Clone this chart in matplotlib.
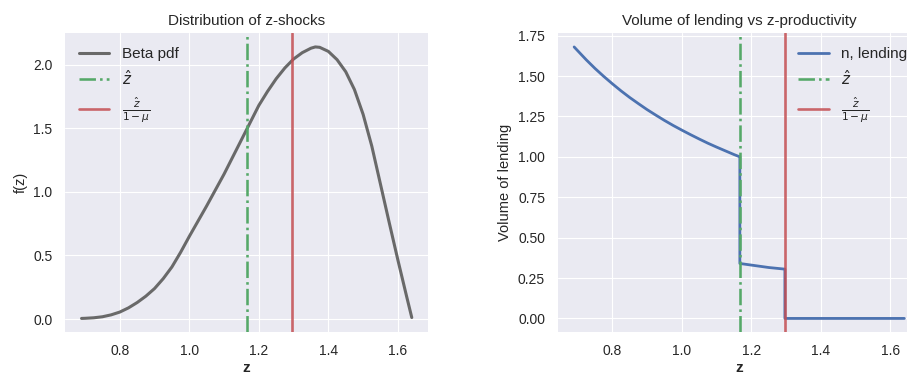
import matplotlib
matplotlib.use("Agg")
import matplotlib.pyplot as plt

# values
z_hat = 1.1667
z_bar = 1.2963  # z_hat / (1 - mu)

beta_z = [0.69, 0.70, 0.725, 0.75, 0.775, 0.80, 0.825, 0.85, 0.875, 0.90, 0.925,
          0.95, 0.975, 1.00, 1.025, 1.05, 1.075, 1.10, 1.125, 1.15, 1.175, 1.20,
          1.225, 1.25, 1.275, 1.30, 1.325, 1.35, 1.3625, 1.375, 1.40, 1.425, 1.45,
          1.475, 1.50, 1.525, 1.55, 1.575, 1.60, 1.625, 1.64]
beta_pdf = [0.005, 0.006, 0.010, 0.018, 0.033, 0.055, 0.088, 0.13, 0.18, 0.24, 0.318,
            0.41, 0.525, 0.65, 0.77, 0.89, 1.015, 1.14, 1.275, 1.41, 1.545, 1.68,
            1.79, 1.89, 1.975, 2.045, 2.095, 2.13, 2.14, 2.137, 2.105, 2.04, 1.945,
            1.805, 1.61, 1.36, 1.06, 0.76, 0.465, 0.18, 0.012]

lend_z = [0.69, 0.70, 0.725, 0.75, 0.775, 0.80, 0.825, 0.85, 0.875, 0.90, 0.925,
          0.95, 0.975, 1.00, 1.025, 1.05, 1.075, 1.10, 1.125, 1.15, z_hat,
          z_hat, 1.20, 1.25, z_bar,
          z_bar, 1.64]
lend_n = [1.680, 1.657, 1.600, 1.547, 1.498, 1.452, 1.408, 1.367, 1.329, 1.292, 1.258,
          1.225, 1.194, 1.165, 1.137, 1.110, 1.084, 1.060, 1.037, 1.014, 1.000,
          0.34, 0.33, 0.315, 0.305,
          0.0, 0.0]

xticks = [0.8, 1.0, 1.2, 1.4, 1.6]
yticks_left = [0.0, 0.5, 1.0, 1.5, 2.0]
yticks_right = [0.0, 0.25, 0.5, 0.75, 1.0, 1.25, 1.5, 1.75]

plt.style.use("seaborn-v0_8-darkgrid")
plt.rcParams['font.family'] = ['Liberation Sans', 'DejaVu Sans']
plt.rcParams['xtick.major.pad'] = 9
plt.rcParams['ytick.major.pad'] = 9
plt.rcParams['axes.labelcolor'] = '.15'
plt.rcParams['xtick.color'] = '.15'
plt.rcParams['ytick.color'] = '.15'

blue, green, red = "#4C72B0", "#55A868", "#C44E52"

fig = plt.figure(figsize=(9.07, 3.74), dpi=100)
ax1 = fig.add_axes([0.0717, 0.1123, 0.4005, 0.7985])
ax2 = fig.add_axes([0.6148, 0.1123, 0.4005, 0.7985])

#####################################################################

ax1.plot(beta_z, beta_pdf, color="dimgray", lw=2.2, label="Beta pdf")
ax1.axvline(z_hat, color=green, ls="-.", lw=1.85, label=r"$\hat{z}$")
ax1.axvline(z_bar, color=red, lw=1.9, alpha=0.85, label=r"$\frac{\hat{z}}{1-\mu}$")
ax1.set_title("Distribution of z-shocks", fontsize=11)
ax1.set_xlabel("z", fontsize=11, fontweight="bold", labelpad=2)
ax1.set_ylabel("f(z)", fontsize=10.5)
ax1.set_xticks(xticks)
ax1.set_yticks(yticks_left)
ax1.tick_params(labelsize=10)
ax1.legend(loc="upper left", fontsize=11, frameon=False)

#####################################################################

ax2.plot(lend_z, lend_n, color=blue, lw=2, label="n, lending")
ax2.axvline(z_hat, color=green, ls="-.", lw=1.85, label=r"$\hat{z}$")
ax2.axvline(z_bar, color=red, lw=1.9, alpha=0.85, label=r"$\frac{\hat{z}}{1-\mu}$")
ax2.set_title("Volume of lending vs z-productivity", fontsize=11)
ax2.set_xlabel("z", fontsize=11, fontweight="bold", labelpad=2)
ax2.set_ylabel("Volume of lending", fontsize=10.5)
ax2.set_xticks(xticks)
ax2.set_yticks(yticks_right)
ax2.tick_params(labelsize=10)
ax2.legend(loc="upper right", fontsize=11, frameon=False)

fig.savefig("out.png", dpi=100)
